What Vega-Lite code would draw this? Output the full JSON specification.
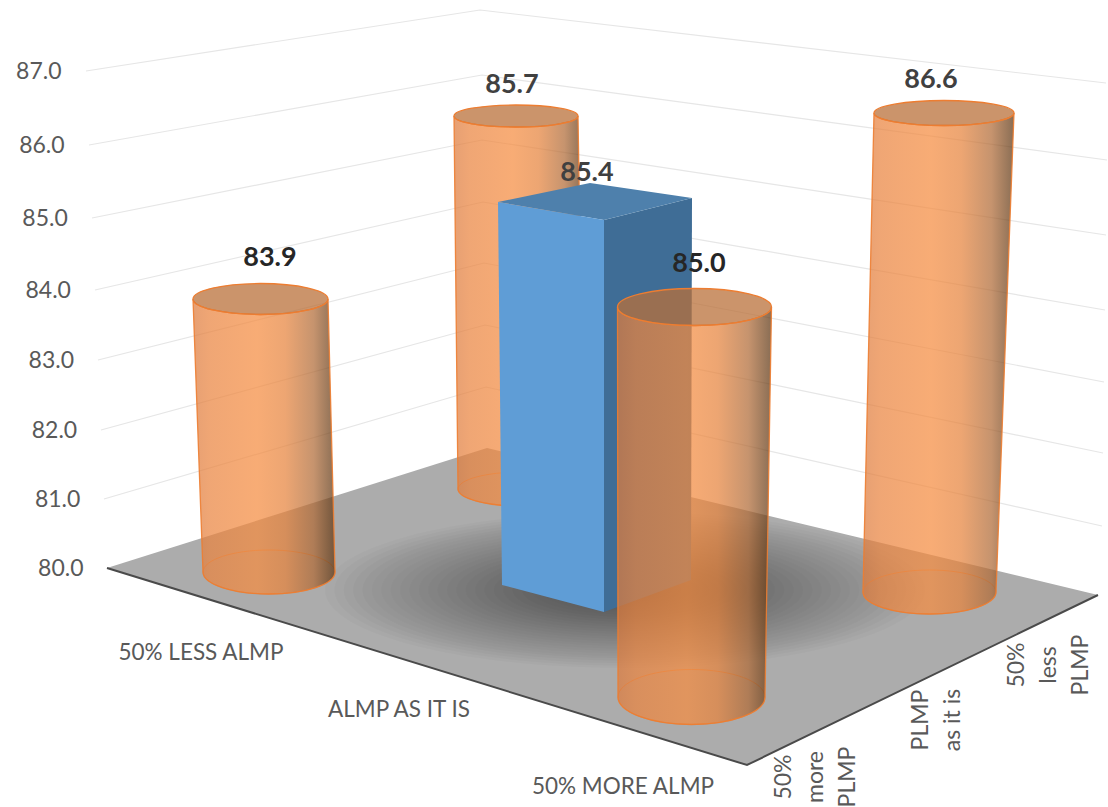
{
"$schema":"https://vega.github.io/schema/vega-lite/v6.json",
"width":1108,"height":807,"padding":0,"autosize":{"type":"none"},
"background":"white",
"config":{"view":{"stroke":null},"font":"Lato"},
"datasets":{
"bars":[
{"almp":"50% LESS ALMP","plmp":"50% more PLMP","value":83.9},
{"almp":"50% LESS ALMP","plmp":"50% less PLMP","value":85.7},
{"almp":"ALMP AS IT IS","plmp":"PLMP as it is","value":85.4},
{"almp":"50% MORE ALMP","plmp":"50% more PLMP","value":85.0},
{"almp":"50% MORE ALMP","plmp":"50% less PLMP","value":86.6}
],
"ticks":[{"tick":81},{"tick":82},{"tick":83},{"tick":84},{"tick":85},{"tick":86},{"tick":87}],
"base":[{"tick":80}],
"shade":[{"part":"floor","ring":1},{"part":"floor","ring":2},{"part":"floor","ring":3},{"part":"floor","ring":4},{"part":"floor","ring":5},{"part":"floor","ring":6},{"part":"floor","ring":7},{"part":"floor","ring":8},{"part":"floor","ring":9},{"part":"floor","ring":10},{"part":"floor","ring":11},{"part":"floor","ring":12},{"part":"floor","ring":13},{"part":"floor","ring":14},{"part":"floor","ring":15},{"part":"floor","ring":16},{"part":"floor","ring":17},{"part":"floor","ring":18},{"part":"floor","ring":19},{"part":"floor","ring":20},{"part":"floor","ring":21},{"part":"floor","ring":22},{"part":"floor","ring":23},{"part":"floor","ring":24},{"part":"floor","ring":25},{"part":"floor","ring":26},{"part":"floor","ring":27},{"part":"floor","ring":28},{"part":"floor","ring":29},{"part":"floor","ring":30},{"part":"floor","ring":31},{"part":"floor","ring":32}],
"cats":[
{"cat":"50% LESS ALMP"},{"cat":"ALMP AS IT IS"},{"cat":"50% MORE ALMP"},
{"cat":"50%\nmore\nPLMP"},{"cat":"PLMP\nas it is"},{"cat":"50%\nless\nPLMP"}
]
},
"resolve":{"scale":{"x":"independent","y":"independent"},"axis":{"x":"independent","y":"independent"}},
"layer":[
{"data":{"name":"ticks"},
 "mark":{"type":"point","filled":false,"size":4,"stroke":"#e6e6e6","strokeWidth":1.2,"opacity":1},
 "encoding":{
  "x":{"field":"tick","type":"quantitative","axis":null,"scale":{"domain":[80,87],"range":[107,86]}},
  "y":{"field":"tick","type":"quantitative","scale":{"domain":[80,81,82,83,84,85,86,87],"range":[568,499,430,360,290,218,145,71]},
   "axis":{"orient":"left","title":null,"values":[80,81,82,83,84,85,86,87],"format":".1f","grid":false,"domain":false,"ticks":false,"labelFont":"Lato","labelFontSize":23,"labelColor":"#595959","labelPadding":{"expr":"-(83-(datum.value-80)*22/7)"}}},
  "shape":{"field":"tick","type":"nominal","legend":null,"scale":{"domain":[81,82,83,84,85,86,87],"range":[
   "M0,0L382,-112L998,27","M0,0L384,-105L1002,23","M0,0L386,-97L1006,22","M0,0L388,-88L1010,20","M0,0L390,-78L1014,17","M0,0L393,-70L1018,15","M0,0L394,-61L1020,12"]}}
 }},
{"data":{"name":"base"},
 "encoding":{
  "x":{"field":"tick","type":"nominal","axis":null,"scale":{"domain":[80],"range":[107,107]}},
  "y":{"field":"tick","type":"nominal","axis":null,"scale":{"domain":[80],"range":[568,568]}}},
 "layer":[
  {"mark":{"type":"point","filled":true,"size":4,"fill":"#acacac","opacity":1,"shape":"M0,0L380,-120L991,27L640,197Z"}}
 ]},
{"data":{"name":"shade"},
 "mark":{"type":"point","filled":true,"fill":"#000000","opacity":0.02,"shape":"M-1,0A1,0.26 0 1,1 1,0A1,0.26 0 1,1 -1,0Z"},
 "encoding":{
  "x":{"field":"part","type":"nominal","axis":null,"scale":{"domain":["floor"],"range":[625,625]}},
  "y":{"field":"part","type":"nominal","axis":null,"scale":{"domain":["floor"],"range":[590,590]}},
  "size":{"field":"ring","type":"quantitative","legend":null,"scale":{"type":"pow","exponent":2,"domain":[0,32],"range":[0,360000]}}
 }},
{"data":{"name":"base"},
 "mark":{"type":"point","filled":false,"size":4,"stroke":"#4a4a4a","strokeWidth":2,"opacity":1,"shape":"M0,0L640,197L991,27"},
 "encoding":{
  "x":{"field":"tick","type":"nominal","axis":null,"scale":{"domain":[80],"range":[107,107]}},
  "y":{"field":"tick","type":"nominal","axis":null,"scale":{"domain":[80],"range":[568,568]}}}},
{"data":{"name":"bars"},
 "transform":[{"filter":"datum.almp==='50% LESS ALMP' && datum.plmp==='50% less PLMP'"}],
 "encoding":{
  "x":{"field":"almp","type":"nominal","axis":null,"scale":{"domain":["50% LESS ALMP"],"range":[516,516]}},
  "y":{"field":"value","type":"quantitative","axis":null,"scale":{"domain":[80,85.7],"range":[489,116]}}},
 "layer":[
  {"mark":{"type":"point","filled":false,"size":4,"stroke":"#ed7d31","strokeWidth":1,"opacity":0.7,"shape":"M-58,373A63,17 0 1,1 68,373A63,17 0 1,1 -58,373Z"}},
  {"mark":{"type":"point","filled":true,"size":4,"opacity":1,"fillOpacity":0.72,"strokeOpacity":0.9,"stroke":"#ed7d31","strokeWidth":1.3,"fill":{"gradient":"linear","x1":0,"y1":0,"x2":1,"y2":0,"stops":[{"offset":0,"color":"#dd7b3d"},{"offset":0.12,"color":"#ea843f"},{"offset":0.45,"color":"#f58c40"},{"offset":0.65,"color":"#e6833c"},{"offset":0.85,"color":"#b06a36"},{"offset":1,"color":"#5c3512"}]},"shape":"M-62,0L-58,373A63,17 0 0,0 68,373L62,0A62,11 0 0,1 -62,0Z"}},
  {"mark":{"type":"point","filled":true,"size":4,"opacity":1,"fill":"#b9703a","fillOpacity":0.75,"stroke":"#ed7d31","strokeWidth":1.3,"shape":"M-62,0A62,11 0 1,1 62,0A62,11 0 1,1 -62,0Z"}},
  {"mark":{"type":"text","font":"Lato","fontWeight":"bold","fontSize":27,"fill":"#404040","dx":-4,"dy":-31},"encoding":{"text":{"field":"value","type":"quantitative","format":".1f"}}}
 ]},
{"data":{"name":"bars"},
 "transform":[{"filter":"datum.almp==='50% LESS ALMP' && datum.plmp==='50% more PLMP'"}],
 "encoding":{
  "x":{"field":"almp","type":"nominal","axis":null,"scale":{"domain":["50% LESS ALMP"],"range":[260.5,260.5]}},
  "y":{"field":"value","type":"quantitative","axis":null,"scale":{"domain":[80,83.9],"range":[572,299]}}},
 "layer":[
  {"mark":{"type":"point","filled":false,"size":4,"stroke":"#ed7d31","strokeWidth":1,"opacity":0.7,"shape":"M-57.5,273A66,22 0 1,1 74.5,273A66,22 0 1,1 -57.5,273Z"}},
  {"mark":{"type":"point","filled":true,"size":4,"opacity":1,"fillOpacity":0.72,"strokeOpacity":0.9,"stroke":"#ed7d31","strokeWidth":1.3,"fill":{"gradient":"linear","x1":0,"y1":0,"x2":1,"y2":0,"stops":[{"offset":0,"color":"#dd7b3d"},{"offset":0.12,"color":"#ea843f"},{"offset":0.45,"color":"#f58c40"},{"offset":0.65,"color":"#e6833c"},{"offset":0.85,"color":"#b06a36"},{"offset":1,"color":"#5c3512"}]},"shape":"M-67.5,0L-57.5,273A66,22 0 0,0 74.5,273L67.5,0A67.5,15.5 0 0,1 -67.5,0Z"}},
  {"mark":{"type":"point","filled":true,"size":4,"opacity":1,"fill":"#b9703a","fillOpacity":0.75,"stroke":"#ed7d31","strokeWidth":1.3,"shape":"M-67.5,0A67.5,15.5 0 1,1 67.5,0A67.5,15.5 0 1,1 -67.5,0Z"}},
  {"mark":{"type":"text","font":"Lato","fontWeight":"bold","fontSize":27,"fill":"#262626","dx":9.5,"dy":-41},"encoding":{"text":{"field":"value","type":"quantitative","format":".1f"}}}
 ]},
{"data":{"name":"bars"},
 "transform":[{"filter":"datum.almp==='50% MORE ALMP' && datum.plmp==='50% less PLMP'"}],
 "encoding":{
  "x":{"field":"almp","type":"nominal","axis":null,"scale":{"domain":["50% MORE ALMP"],"range":[944,944]}},
  "y":{"field":"value","type":"quantitative","axis":null,"scale":{"domain":[80,86.6],"range":[592,113]}}},
 "layer":[
  {"mark":{"type":"point","filled":false,"size":4,"stroke":"#ed7d31","strokeWidth":1,"opacity":0.7,"shape":"M-81,479A66.5,22 0 1,1 52,479A66.5,22 0 1,1 -81,479Z"}},
  {"mark":{"type":"point","filled":true,"size":4,"opacity":1,"fillOpacity":0.72,"strokeOpacity":0.9,"stroke":"#ed7d31","strokeWidth":1.3,"fill":{"gradient":"linear","x1":0,"y1":0,"x2":1,"y2":0,"stops":[{"offset":0,"color":"#dd7b3d"},{"offset":0.12,"color":"#ea843f"},{"offset":0.45,"color":"#f58c40"},{"offset":0.65,"color":"#e6833c"},{"offset":0.85,"color":"#b06a36"},{"offset":1,"color":"#5c3512"}]},"shape":"M-70,0L-81,479A66.5,22 0 0,0 52,479L70,0A70,12.5 0 0,1 -70,0Z"}},
  {"mark":{"type":"point","filled":true,"size":4,"opacity":1,"fill":"#b9703a","fillOpacity":0.75,"stroke":"#ed7d31","strokeWidth":1.3,"shape":"M-70,0A70,12.5 0 1,1 70,0A70,12.5 0 1,1 -70,0Z"}},
  {"mark":{"type":"text","font":"Lato","fontWeight":"bold","fontSize":27,"fill":"#404040","dx":-13,"dy":-33},"encoding":{"text":{"field":"value","type":"quantitative","format":".1f"}}}
 ]},
{"data":{"name":"bars"},
 "transform":[{"filter":"datum.almp==='ALMP AS IT IS'"}],
 "encoding":{
  "x":{"field":"almp","type":"nominal","axis":null,"scale":{"domain":["ALMP AS IT IS"],"range":[604,604]}},
  "y":{"field":"value","type":"quantitative","axis":null,"scale":{"domain":[80,85.4],"range":[612,220]}}},
 "layer":[
  {"mark":{"type":"point","filled":true,"size":4,"opacity":1,"fill":"#3f6d96","shape":"M0,0L88,-22L87,360L0,392Z"}},
  {"mark":{"type":"point","filled":true,"size":4,"opacity":1,"fill":"#4e80ac","shape":"M0,0L-106,-18L-14,-37L88,-22Z"}},
  {"mark":{"type":"point","filled":true,"size":4,"opacity":1,"fill":"#5f9dd6","shape":"M-106,-18L0,0L0,392L-102,365Z"}},
  {"mark":{"type":"text","font":"Lato","fontWeight":"bold","fontSize":27,"fill":"#404040","dx":-17,"dy":-47},"encoding":{"text":{"field":"value","type":"quantitative","format":".1f"}}}
 ]},
{"data":{"name":"bars"},
 "transform":[{"filter":"datum.almp==='50% MORE ALMP' && datum.plmp==='50% more PLMP'"}],
 "encoding":{
  "x":{"field":"almp","type":"nominal","axis":null,"scale":{"domain":["50% MORE ALMP"],"range":[694.5,694.5]}},
  "y":{"field":"value","type":"quantitative","axis":null,"scale":{"domain":[80,85],"range":[697,307]}}},
 "layer":[
  {"mark":{"type":"point","filled":false,"size":4,"stroke":"#ed7d31","strokeWidth":1,"opacity":0.7,"shape":"M-76.5,390A73.5,27.5 0 1,1 70.5,390A73.5,27.5 0 1,1 -76.5,390Z"}},
  {"mark":{"type":"point","filled":true,"size":4,"opacity":1,"fillOpacity":0.72,"strokeOpacity":0.9,"stroke":"#ed7d31","strokeWidth":1.3,"fill":{"gradient":"linear","x1":0,"y1":0,"x2":1,"y2":0,"stops":[{"offset":0,"color":"#dd7b3d"},{"offset":0.12,"color":"#ea843f"},{"offset":0.45,"color":"#f58c40"},{"offset":0.65,"color":"#e6833c"},{"offset":0.85,"color":"#b06a36"},{"offset":1,"color":"#5c3512"}]},"shape":"M-77,0L-76.5,390A73.5,27.5 0 0,0 70.5,390L77,0A77,18.5 0 0,1 -77,0Z"}},
  {"mark":{"type":"point","filled":true,"size":4,"opacity":1,"fill":"#b9703a","fillOpacity":0.75,"stroke":"#ed7d31","strokeWidth":1.3,"shape":"M-77,0A77,18.5 0 1,1 77,0A77,18.5 0 1,1 -77,0Z"}},
  {"mark":{"type":"text","font":"Lato","fontWeight":"bold","fontSize":27,"fill":"#262626","dx":4.5,"dy":-43},"encoding":{"text":{"field":"value","type":"quantitative","format":".1f"}}}
 ]},
{"data":{"name":"cats"},"transform":[{"filter":"datum.cat==='50% LESS ALMP'"}],
 "mark":{"type":"text","font":"Lato","fontSize":22.5,"fill":"#595959","align":"center","baseline":"middle"},
 "encoding":{"text":{"field":"cat"},
  "x":{"field":"cat","type":"nominal","axis":null,"scale":{"domain":["50% LESS ALMP"],"range":[201,201]}},
  "y":{"field":"cat","type":"nominal","axis":null,"scale":{"domain":["50% LESS ALMP"],"range":[653,653]}}}},
{"data":{"name":"cats"},"transform":[{"filter":"datum.cat==='ALMP AS IT IS'"}],
 "mark":{"type":"text","font":"Lato","fontSize":22.5,"fill":"#595959","align":"center","baseline":"middle"},
 "encoding":{"text":{"field":"cat"},
  "x":{"field":"cat","type":"nominal","axis":null,"scale":{"domain":["ALMP AS IT IS"],"range":[399,399]}},
  "y":{"field":"cat","type":"nominal","axis":null,"scale":{"domain":["ALMP AS IT IS"],"range":[710,710]}}}},
{"data":{"name":"cats"},"transform":[{"filter":"datum.cat==='50% MORE ALMP'"}],
 "mark":{"type":"text","font":"Lato","fontSize":22.5,"fill":"#595959","align":"center","baseline":"middle"},
 "encoding":{"text":{"field":"cat"},
  "x":{"field":"cat","type":"nominal","axis":null,"scale":{"domain":["50% MORE ALMP"],"range":[623,623]}},
  "y":{"field":"cat","type":"nominal","axis":null,"scale":{"domain":["50% MORE ALMP"],"range":[787,787]}}}},
{"data":{"name":"cats"},"transform":[{"filter":"datum.cat==='50%\\nmore\\nPLMP'"}],
 "mark":{"type":"text","font":"Lato","fontSize":23,"fill":"#595959","align":"center","baseline":"middle","angle":270,"lineBreak":"\n","lineHeight":32},
 "encoding":{"text":{"field":"cat"},
  "x":{"field":"cat","type":"nominal","axis":null,"scale":{"domain":["50%\nmore\nPLMP"],"range":[784,784]}},
  "y":{"field":"cat","type":"nominal","axis":null,"scale":{"domain":["50%\nmore\nPLMP"],"range":[777,777]}}}},
{"data":{"name":"cats"},"transform":[{"filter":"datum.cat==='PLMP\\nas it is'"}],
 "mark":{"type":"text","font":"Lato","fontSize":23,"fill":"#595959","align":"center","baseline":"middle","angle":270,"lineBreak":"\n","lineHeight":32},
 "encoding":{"text":{"field":"cat"},
  "x":{"field":"cat","type":"nominal","axis":null,"scale":{"domain":["PLMP\nas it is"],"range":[921,921]}},
  "y":{"field":"cat","type":"nominal","axis":null,"scale":{"domain":["PLMP\nas it is"],"range":[720,720]}}}},
{"data":{"name":"cats"},"transform":[{"filter":"datum.cat==='50%\\nless\\nPLMP'"}],
 "mark":{"type":"text","font":"Lato","fontSize":23,"fill":"#595959","align":"center","baseline":"middle","angle":270,"lineBreak":"\n","lineHeight":32},
 "encoding":{"text":{"field":"cat"},
  "x":{"field":"cat","type":"nominal","axis":null,"scale":{"domain":["50%\nless\nPLMP"],"range":[1017,1017]}},
  "y":{"field":"cat","type":"nominal","axis":null,"scale":{"domain":["50%\nless\nPLMP"],"range":[665,665]}}}}
]
}
